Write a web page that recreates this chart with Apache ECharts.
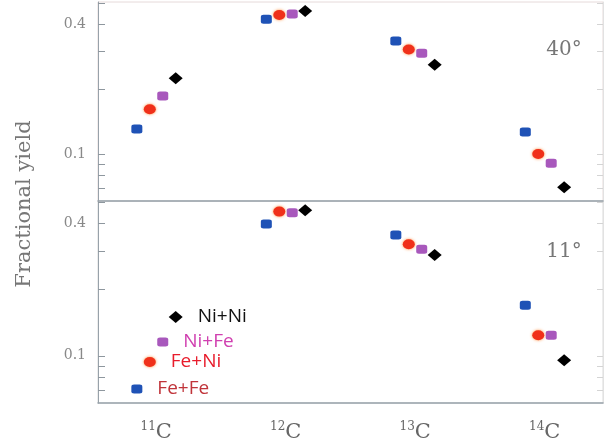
<!DOCTYPE html>
<html>
<head>
<meta charset="utf-8">
<script src="https://cdn.jsdelivr.net/npm/echarts@6/dist/echarts.min.js"></script>
<style>html,body{margin:0;padding:0;background:#fff}#c{width:606px;height:446px}</style>
</head>
<body>
<div id="c"></div>
<script>
// ---- data ----
const categories = ['11', '12', '13', '14'];          // mass numbers of carbon isotopes
const seriesNames = ['Fe+Fe', 'Fe+Ni', 'Ni+Fe', 'Ni+Ni'];
const panelAngles = ['40°', '11°'];
// 40 degree panel
const feFe40 = [0.131, 0.421, 0.334, 0.127];
const feNi40 = [0.1615, 0.440, 0.305, 0.1005];
const niFe40 = [0.186, 0.444, 0.293, 0.091];
const niNi40 = [0.2246, 0.459, 0.259, 0.0705];
// 11 degree panel
const feFe11 = [0.0706, 0.397, 0.354, 0.1696];
const feNi11 = [0.0937, 0.452, 0.321, 0.124];
const niFe11 = [0.1155, 0.447, 0.305, 0.124];
const niNi11 = [0.150, 0.458, 0.287, 0.0954];
// y tick labels and tick marks
const yTickLabels = [0.1, 0.4];
const yMajorTicks = [0.07, 0.08, 0.09, 0.1, 0.2, 0.3, 0.4, 0.5];

const panels = [
  [feFe40, feNi40, niFe40, niNi40],
  [feFe11, feNi11, niFe11, niNi11]
];

// ---- styles ----
const offsets = [-0.15, -0.05, 0.05, 0.15];
const markerStyles = [
  { symbol: 'roundRect', symbolSize: [11, 9], color: '#1f52b6' },
  { symbol: 'circle', symbolSize: [12, 10], color: '#f0301a', shadowColor: 'rgba(255,130,40,0.9)', shadowBlur: 3 },
  { symbol: 'roundRect', symbolSize: [11, 9], color: '#a858bc' },
  { symbol: 'diamond', symbolSize: [14, 12], color: '#000000' }
];
const labelColors = ['#c0343a', '#e81c2c', '#d040b0', '#111111'];

const YMIN = 0.061, YMAX = 0.505;
const axisGray = '#98a2aa';

const grids = [
  { left: 98, right: 3, top: 2, height: 199, show: true, borderColor: '#e6dada', borderWidth: 1 },
  { left: 98, right: 3, top: 201, height: 202, show: true, borderColor: '#dadada', borderWidth: 1 }
];

const xAxes = [];
const yAxes = [];
grids.forEach((g, gi) => {
  xAxes.push({
    type: 'value', gridIndex: gi, min: 0.55, max: 4.45, position: 'bottom',
    axisLine: { show: true, onZero: false, lineStyle: { color: axisGray, width: 1.5 } },
    axisTick: { show: false }, splitLine: { show: false },
    axisLabel: gi === 1 ? {
      show: true, customValues: [1, 2, 3, 4], margin: 18,
      formatter: v => '{s|' + categories[Math.round(v) - 1] + '}{c|C}',
      rich: {
        s: { fontFamily: 'DejaVu Serif', fontSize: 12, color: '#666', verticalAlign: 'bottom', padding: [0, 0, 10, 0] },
        c: { fontFamily: 'DejaVu Serif', fontSize: 21, color: '#666', verticalAlign: 'bottom' }
      }
    } : { show: false }
  });
  ['left', 'right'].forEach(pos => {
    yAxes.push({
      type: 'log', gridIndex: gi, min: YMIN, max: YMAX, position: pos,
      axisLine: { show: true, lineStyle: { color: pos === 'left' ? axisGray : '#e2e2e2' } },
      axisTick: { show: true, inside: true, length: pos === 'left' ? 7 : 6, customValues: yMajorTicks,
                  lineStyle: { color: pos === 'left' ? '#8e979e' : '#d4d4d4' } },
      splitLine: { show: false },
      axisLabel: { show: false }
    });
  });
});

const series = [];
panels.forEach((sets, gi) => {
  sets.forEach((vals, si) => {
    const m = markerStyles[si];
    series.push({
      name: seriesNames[si] + (gi === 0 ? ' 40°' : ' 11°'),
      type: 'scatter',
      xAxisIndex: gi, yAxisIndex: gi * 2,
      symbol: m.symbol, symbolSize: m.symbolSize,
      itemStyle: { color: m.color, opacity: 1, shadowColor: m.shadowColor || 'transparent', shadowBlur: m.shadowBlur || 0 },
      z: 5,
      data: vals.map((v, ci) => {
        const item = { value: [ci + 1 + offsets[si], v] };
        if (gi === 1 && ci === 0) {
          item.label = {
            show: true, position: 'right', distance: 15,
            formatter: seriesNames[si],
            fontFamily: 'Open Sans', fontSize: 19, color: labelColors[si]
          };
        }
        return item;
      })
    });
  });
});

const chart = echarts.init(document.getElementById('c'));
chart.setOption({
  animation: false,
  backgroundColor: '#fff',
  grid: grids,
  xAxis: xAxes,
  yAxis: yAxes,
  series: series
});

// y tick labels placed through the y axes' own log scales
const graphics = [
  { type: 'text', x: 25, y: 204, rotation: Math.PI / 2,
    style: { text: 'Fractional yield', fontFamily: 'DejaVu Serif', fontSize: 21, fill: '#777', align: 'center', verticalAlign: 'middle' } },
  { type: 'text', x: 564, y: 50,
    style: { text: panelAngles[0], fontFamily: 'DejaVu Serif', fontSize: 20, fill: '#777', align: 'center', verticalAlign: 'middle' } },
  { type: 'text', x: 564, y: 252,
    style: { text: panelAngles[1], fontFamily: 'DejaVu Serif', fontSize: 20, fill: '#777', align: 'center', verticalAlign: 'middle' } }
];
grids.forEach((g, gi) => {
  yTickLabels.forEach(v => {
    const py = chart.convertToPixel({ yAxisIndex: gi * 2 }, v);
    graphics.push({ type: 'text', x: 86, y: py,
      style: { text: String(v), fontFamily: 'DejaVu Serif', fontSize: 14, fill: '#888', align: 'right', verticalAlign: 'middle' } });
  });
});
chart.setOption({ graphic: graphics });
</script>
</body>
</html>
